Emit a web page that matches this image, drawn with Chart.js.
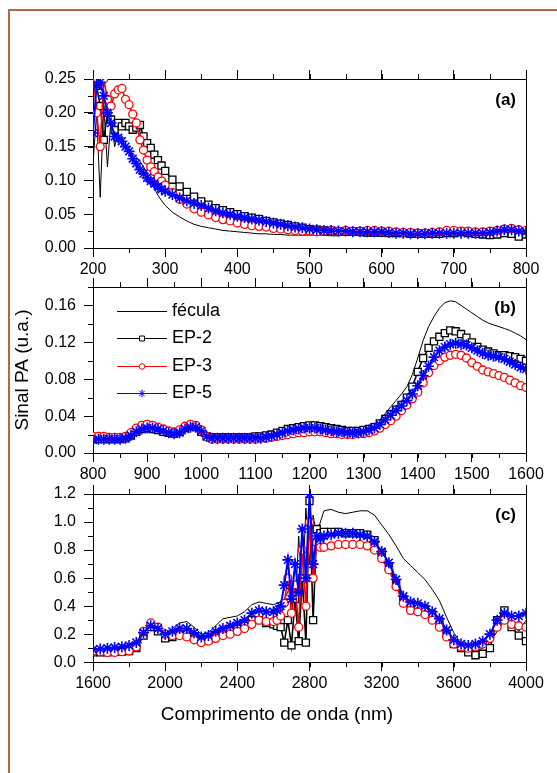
<!DOCTYPE html>
<html>
<head>
<meta charset="utf-8">
<title>Sinal PA</title>
<script src="https://cdn.jsdelivr.net/npm/chart.js@4.4.1/dist/chart.umd.min.js"></script>
<style>
  body { margin: 0; background: #fff; }
  .page { position: relative; width: 557px; height: 773px; overflow: hidden; }
  .frame { position: absolute; left: 8px; top: 9px; width: 700px; height: 900px; border-left: 2px solid #b4693d; border-top: 2px solid #b4693d; }
  canvas { position: absolute; left: 0; top: 0; }
</style>
</head>
<body>
<div class="page">
  <div class="frame"></div>
  <canvas id="chart-a" width="557" height="773"></canvas>
  <canvas id="chart-b" width="557" height="773"></canvas>
  <canvas id="chart-c" width="557" height="773"></canvas>
</div>
<script>
// ======================== DATA (a) 200-800 nm
const wlA = [200,205,210,215,220,225,230,235,240,245,250,255,260,265,270,275,280,285,290,295,300,
  310,320,330,340,350,360,370,380,390,400,
  410,420,430,440,450,460,470,480,490,500,
  510,520,530,540,550,560,570,580,590,600,
  610,620,630,640,650,660,670,680,690,700,
  710,720,730,740,750,760,770,780,790,800]
const fecA = [0.125,0.20,0.075,0.21,0.12,0.19,0.15,0.17,0.155,0.15,0.145,0.14,0.135,0.128,0.12,0.11,0.098,0.088,0.078,0.07,0.063,
  0.053,0.046,0.040,0.035,0.032,0.030,0.028,0.026,0.025,0.024,
  0.023,0.022,0.021,0.021,0.020,0.020,0.019,0.019,0.019,0.019,
  0.019,0.019,0.018,0.018,0.019,0.019,0.018,0.018,0.018,0.018,
  0.018,0.018,0.017,0.017,0.017,0.017,0.017,0.017,0.018,0.018,
  0.018,0.018,0.018,0.018,0.018,0.019,0.019,0.020,0.020,0.019]
const ep2A = [0.25,0.24,0.21,0.16,0.20,0.19,0.175,0.185,0.18,0.185,0.18,0.175,0.178,0.182,0.165,0.155,0.148,0.138,0.13,0.122,0.114,
  0.101,0.091,0.083,0.076,0.069,0.064,0.059,0.056,0.053,0.050,
  0.047,0.045,0.043,0.040,0.038,0.036,0.034,0.032,0.030,0.028,
  0.027,0.026,0.025,0.025,0.024,0.024,0.024,0.023,0.023,0.023,
  0.022,0.022,0.022,0.021,0.021,0.021,0.021,0.021,0.022,0.022,
  0.024,0.022,0.021,0.020,0.019,0.020,0.022,0.021,0.017,0.020]
const ep3A = [0.26,0.20,0.15,0.25,0.22,0.21,0.228,0.234,0.236,0.22,0.212,0.198,0.185,0.16,0.145,0.13,0.12,0.113,0.105,0.099,0.093,
  0.082,0.072,0.065,0.058,0.053,0.049,0.045,0.042,0.040,0.037,
  0.035,0.033,0.032,0.031,0.029,0.028,0.027,0.026,0.025,0.025,
  0.024,0.025,0.026,0.025,0.026,0.025,0.025,0.026,0.026,0.025,
  0.025,0.024,0.023,0.023,0.022,0.022,0.023,0.024,0.026,0.026,
  0.025,0.025,0.024,0.024,0.025,0.026,0.028,0.029,0.027,0.026]
const ep5A = [0.17,0.24,0.245,0.225,0.20,0.185,0.165,0.163,0.158,0.15,0.143,0.132,0.125,0.116,0.11,0.104,0.099,0.095,0.091,0.087,0.084,
  0.079,0.074,0.070,0.066,0.063,0.059,0.055,0.052,0.050,0.047,
  0.045,0.043,0.041,0.039,0.037,0.035,0.033,0.031,0.030,0.028,
  0.027,0.026,0.026,0.025,0.025,0.024,0.024,0.024,0.024,0.024,
  0.023,0.022,0.022,0.021,0.021,0.021,0.022,0.022,0.022,0.022,
  0.022,0.022,0.022,0.022,0.023,0.025,0.027,0.027,0.025,0.024]

// ======================== DATA (b) 800-1600 nm
const wlB = [800,810,820,830,840,850,860,870,880,890,
  900,910,920,930,940,950,960,970,980,990,
  1000,1010,1020,1030,1040,1050,1060,1070,1080,1090,
  1100,1110,1120,1130,1140,1150,1160,1170,1180,1190,
  1200,1210,1220,1230,1240,1250,1260,1270,1280,1290,
  1300,1310,1320,1330,1340,1350,1360,1370,1380,1390,
  1400,1410,1420,1430,1440,1450,1460,1470,1480,1490,
  1500,1510,1520,1530,1540,1550,1560,1570,1580,1590,1600]
const fecB = [0.014,0.014,0.014,0.014,0.014,0.014,0.015,0.018,0.022,0.025,
  0.026,0.025,0.024,0.022,0.021,0.020,0.022,0.026,0.028,0.027,
  0.022,0.017,0.016,0.016,0.016,0.016,0.016,0.016,0.016,0.016,
  0.017,0.017,0.018,0.019,0.021,0.024,0.026,0.027,0.028,0.030,
  0.031,0.031,0.030,0.028,0.027,0.026,0.025,0.025,0.024,0.024,
  0.025,0.027,0.030,0.036,0.043,0.050,0.057,0.064,0.072,0.085,
  0.103,0.122,0.137,0.148,0.157,0.163,0.165,0.164,0.160,0.156,
  0.152,0.148,0.144,0.141,0.139,0.137,0.135,0.133,0.130,0.127,0.123]
const ep2B = [0.015,0.015,0.015,0.015,0.015,0.015,0.016,0.019,0.023,0.026,
  0.027,0.026,0.025,0.023,0.022,0.021,0.023,0.027,0.029,0.028,
  0.023,0.018,0.017,0.017,0.017,0.017,0.017,0.017,0.017,0.017,
  0.018,0.018,0.019,0.020,0.022,0.024,0.026,0.027,0.028,0.029,
  0.030,0.030,0.029,0.028,0.027,0.026,0.025,0.024,0.024,0.024,
  0.025,0.026,0.028,0.032,0.037,0.042,0.047,0.052,0.060,0.072,
  0.088,0.103,0.114,0.121,0.126,0.130,0.133,0.132,0.129,0.125,
  0.120,0.115,0.112,0.110,0.108,0.106,0.106,0.105,0.104,0.102,0.100]
const ep3B = [0.018,0.018,0.018,0.017,0.017,0.017,0.018,0.022,0.027,0.030,
  0.031,0.030,0.028,0.026,0.024,0.023,0.025,0.029,0.031,0.030,
  0.025,0.018,0.015,0.015,0.015,0.015,0.015,0.015,0.015,0.015,
  0.015,0.016,0.016,0.017,0.018,0.019,0.020,0.021,0.022,0.022,
  0.023,0.023,0.023,0.022,0.021,0.021,0.020,0.020,0.020,0.021,
  0.021,0.022,0.024,0.027,0.031,0.035,0.040,0.046,0.052,0.059,
  0.066,0.076,0.087,0.095,0.100,0.104,0.106,0.107,0.106,0.103,
  0.098,0.094,0.090,0.088,0.086,0.084,0.082,0.079,0.076,0.073,0.071]
const ep5B = [0.014,0.015,0.015,0.015,0.015,0.015,0.016,0.019,0.023,0.026,
  0.027,0.027,0.026,0.024,0.022,0.021,0.022,0.026,0.028,0.028,
  0.024,0.018,0.016,0.016,0.016,0.016,0.016,0.016,0.016,0.016,
  0.016,0.016,0.017,0.018,0.020,0.022,0.024,0.025,0.026,0.027,
  0.027,0.027,0.026,0.025,0.024,0.023,0.023,0.022,0.022,0.022,
  0.023,0.025,0.027,0.031,0.036,0.041,0.046,0.051,0.057,0.064,
  0.073,0.084,0.094,0.104,0.111,0.115,0.118,0.119,0.118,0.117,
  0.114,0.111,0.108,0.106,0.105,0.104,0.102,0.099,0.096,0.093,0.091]

// ======================== DATA (c) 1600-4000 nm
const wlC = [1600,1640,1680,1720,1760,1800,1840,1880,1920,1960,2000,2040,2080,2120,2160,2200,2240,2280,2320,2360,2400,2440,2480,2520,2560,2600,
  2620,2640,2660,2680,2700,2720,2740,2760,2780,2800,2820,2840,2860,
  2880,2920,2960,3000,3040,3080,3120,3160,3200,3240,3280,3320,3360,3400,3440,3480,3520,3560,3600,3640,3680,3720,3760,3800,3840,3880,3920,3960,4000]
const fecC = [0.08,0.08,0.085,0.09,0.09,0.09,0.11,0.2,0.28,0.27,0.19,0.24,0.28,0.29,0.25,0.2,0.21,0.26,0.31,0.32,0.33,0.36,0.41,0.43,0.42,0.41,
  0.42,0.43,0.45,0.5,0.6,0.35,0.9,0.5,1.1,0.7,1.05,0.9,1.0,
  1.08,1.09,1.07,1.06,1.07,1.08,1.08,1.05,0.98,0.91,0.83,0.74,0.69,0.64,0.59,0.52,0.44,0.32,0.21,0.13,0.09,0.08,0.10,0.14,0.22,0.30,0.28,0.22,0.30]
const ep2C = [0.07,0.07,0.07,0.075,0.075,0.08,0.1,0.19,0.25,0.22,0.17,0.18,0.2,0.2,0.18,0.15,0.16,0.19,0.22,0.23,0.24,0.26,0.3,0.3,0.28,0.27,
  0.26,0.25,0.14,0.3,0.12,0.45,0.15,0.6,0.14,1.15,0.3,0.95,0.92,
  0.93,0.93,0.93,0.92,0.92,0.92,0.91,0.87,0.78,0.68,0.56,0.45,0.41,0.40,0.38,0.34,0.29,0.20,0.13,0.10,0.07,0.05,0.06,0.10,0.30,0.37,0.25,0.19,0.15]
const ep3C = [0.08,0.075,0.07,0.07,0.075,0.08,0.11,0.22,0.28,0.25,0.2,0.19,0.19,0.18,0.16,0.14,0.15,0.17,0.19,0.2,0.22,0.24,0.27,0.3,0.29,0.29,
  0.3,0.33,0.42,0.6,0.35,0.55,0.25,0.8,0.4,1.0,0.6,0.85,0.82,
  0.82,0.83,0.84,0.84,0.84,0.84,0.83,0.80,0.74,0.66,0.54,0.42,0.37,0.36,0.34,0.30,0.25,0.18,0.13,0.11,0.10,0.11,0.13,0.17,0.25,0.30,0.27,0.26,0.25]
const ep5C = [0.09,0.095,0.1,0.105,0.11,0.12,0.14,0.21,0.26,0.24,0.2,0.22,0.24,0.24,0.21,0.18,0.19,0.22,0.24,0.26,0.28,0.3,0.35,0.37,0.36,0.36,
  0.37,0.4,0.55,0.73,0.45,0.7,0.5,0.95,0.6,1.2,0.7,0.9,0.88,
  0.90,0.91,0.92,0.92,0.92,0.91,0.90,0.86,0.79,0.71,0.59,0.47,0.43,0.42,0.40,0.36,0.31,0.23,0.16,0.13,0.12,0.13,0.15,0.20,0.30,0.35,0.33,0.33,0.35]

// ======================== STYLES
Chart.defaults.font.family = '"Liberation Sans", Arial, sans-serif'
Chart.defaults.color = '#000'

const look = {
  fec: { borderColor: '#000000', borderWidth: 1, pointRadius: 0, order: 4 },
  ep2: { borderColor: '#000000', borderWidth: 1.6, pointStyle: 'rect', pointRadius: 5, pointBorderWidth: 1.3, pointBackgroundColor: '#ffffff', order: 3 },
  ep3: { borderColor: '#ff0000', borderWidth: 1.6, pointStyle: 'circle', pointRadius: 4, pointBorderWidth: 1.3, pointBackgroundColor: '#ffffff', order: 2 },
  ep5: { borderColor: '#0000ff', borderWidth: 2, pointStyle: 'star', pointRadius: 5.5, pointBorderWidth: 1.6, pointBackgroundColor: '#0000ff', order: 1 }
}

function line(label, wl, vals, st) {
  return Object.assign({
    label: label,
    data: wl.map((w, i) => ({ x: w, y: vals[i] })),
    pointBorderColor: st.borderColor,
    tension: 0
  }, st)
}

// xr / yr = [min, max, step, decimals]
function axes(xr, yr, yw, xh, yTitle) {
  const tick = { drawOnChartArea: false, tickLength: 9, color: '#000', lineWidth: 1 }
  return {
    x: {
      type: 'linear', position: 'bottom', min: xr[0], max: xr[1],
      ticks: { stepSize: xr[2], autoSkip: false, maxRotation: 0, padding: 3, font: { size: 16 }, callback: v => String(v) },
      grid: tick, border: { color: '#000' },
      afterFit: s => { s.height = xh }
    },
    xTop: {
      type: 'linear', position: 'top', min: xr[0], max: xr[1],
      ticks: { stepSize: xr[2], display: false },
      grid: tick, border: { color: '#000' },
      afterFit: s => { s.height = 9 }
    },
    y: {
      type: 'linear', position: 'left', min: yr[0], max: yr[1],
      ticks: { stepSize: yr[2], includeBounds: false, padding: 8, font: { size: 16 }, callback: v => v.toFixed(yr[3]) },
      grid: tick, border: { color: '#000' },
      title: yTitle ? { display: true, text: yTitle, font: { size: 19 }, padding: { top: 11, bottom: 0 } } : { display: false },
      afterFit: s => { s.width = yw }
    },
    yRight: {
      type: 'linear', position: 'right', min: yr[0], max: yr[1],
      ticks: { display: false }, grid: { display: false }, border: { color: '#000' },
      afterFit: s => { s.width = 0 }
    }
  }
}

// ======================== minor ticks, panel letter, legend
const extras = {
  id: 'extras',
  afterDraw(chart, args, opts) {
    const c = chart.ctx
    const area = chart.chartArea
    const x = chart.scales.x, y = chart.scales.y
    c.save()
    c.strokeStyle = '#000'
    c.lineWidth = 1
    c.beginPath()
    for (let k = 0; x.min + k * opts.minorX <= x.max + 1e-9; k++) {
      const px = Math.round(x.getPixelForValue(x.min + k * opts.minorX)) + 0.5
      c.moveTo(px, area.bottom); c.lineTo(px, area.bottom + 5)
      c.moveTo(px, area.top); c.lineTo(px, area.top - 5)
    }
    for (let k = 0; y.min + k * opts.minorY <= y.max + 1e-9; k++) {
      const py = Math.round(y.getPixelForValue(y.min + k * opts.minorY)) + 0.5
      c.moveTo(area.left, py); c.lineTo(area.left - 5, py)
    }
    c.stroke()

    c.fillStyle = '#000'
    c.font = 'bold 17px "Liberation Sans", Arial, sans-serif'
    c.textAlign = 'right'
    c.textBaseline = 'middle'
    c.fillText(opts.tag, area.right - 10, area.top + 21)

    if (opts.legend) {
      c.font = '18px "Liberation Sans", Arial, sans-serif'
      c.textAlign = 'left'
      chart.data.datasets.forEach((ds, i) => {
        const lx = area.left + 24
        const ly = Math.round(area.top + 24 + i * 27.4) + 0.5
        c.strokeStyle = ds.borderColor
        c.lineWidth = 1
        c.beginPath(); c.moveTo(lx, ly); c.lineTo(lx + 50, ly); c.stroke()
        if (ds.pointRadius > 0) {
          c.fillStyle = ds.pointBackgroundColor
          Chart.helpers.drawPoint(c, { pointStyle: ds.pointStyle, radius: ds.pointRadius * 0.7, borderWidth: 1, rotation: 0 }, lx + 25, ly)
        }
        c.fillStyle = '#000'
        c.fillText(ds.label, lx + 55, ly)
      })
    }
    c.restore()
  }
}

function panel(id, wl, vals, xr, yr, opt) {
  return new Chart(document.getElementById(id), {
    type: 'line',
    data: {
      datasets: [
        line('fécula', wl, vals[0], look.fec),
        line('EP-2', wl, vals[1], look.ep2),
        line('EP-3', wl, vals[2], look.ep3),
        line('EP-5', wl, vals[3], look.ep5)
      ]
    },
    options: {
      responsive: false,
      animation: false,
      events: [],
      layout: { padding: opt.pad },
      scales: axes(xr, yr, opt.yw, opt.xh, opt.yTitle),
      plugins: {
        legend: { display: false },
        tooltip: { enabled: false },
        title: opt.xTitle ? {
          display: true, position: 'bottom', text: opt.xTitle, color: '#000',
          font: { size: 19, weight: 'normal' }, padding: { top: 11, bottom: 0 }
        } : { display: false },
        extras: { tag: opt.tag, minorX: opt.minorX, minorY: opt.minorY, legend: !!opt.legend }
      }
    },
    plugins: [extras]
  })
}

// ======================== (a)
panel('chart-a', wlA, [fecA, ep2A, ep3A, ep5A], [200, 800, 100], [0, 0.25, 0.05, 2], {
  pad: { top: 70, bottom: 493, left: 0, right: 31 }, yw: 93, xh: 32,
  tag: '(a)', minorX: 50, minorY: 0.025
})

// ======================== (b)
panel('chart-b', wlB, [fecB, ep2B, ep3B, ep5B], [800, 1600, 100], [0, 0.18, 0.04, 2], {
  pad: { top: 278, bottom: 288, left: 0, right: 31 }, yw: 93, xh: 32,
  yTitle: 'Sinal PA (u.a.)', tag: '(b)', minorX: 50, minorY: 0.02, legend: true
})

// ======================== (c)
panel('chart-c', wlC, [fecC, ep2C, ep3C, ep5C], [1600, 4000, 400], [0, 1.2, 0.2, 1], {
  pad: { top: 485, bottom: 47, left: 28, right: 31 }, yw: 65, xh: 30,
  xTitle: 'Comprimento de onda (nm)', tag: '(c)', minorX: 200, minorY: 0.1
})
</script>
</body>
</html>
